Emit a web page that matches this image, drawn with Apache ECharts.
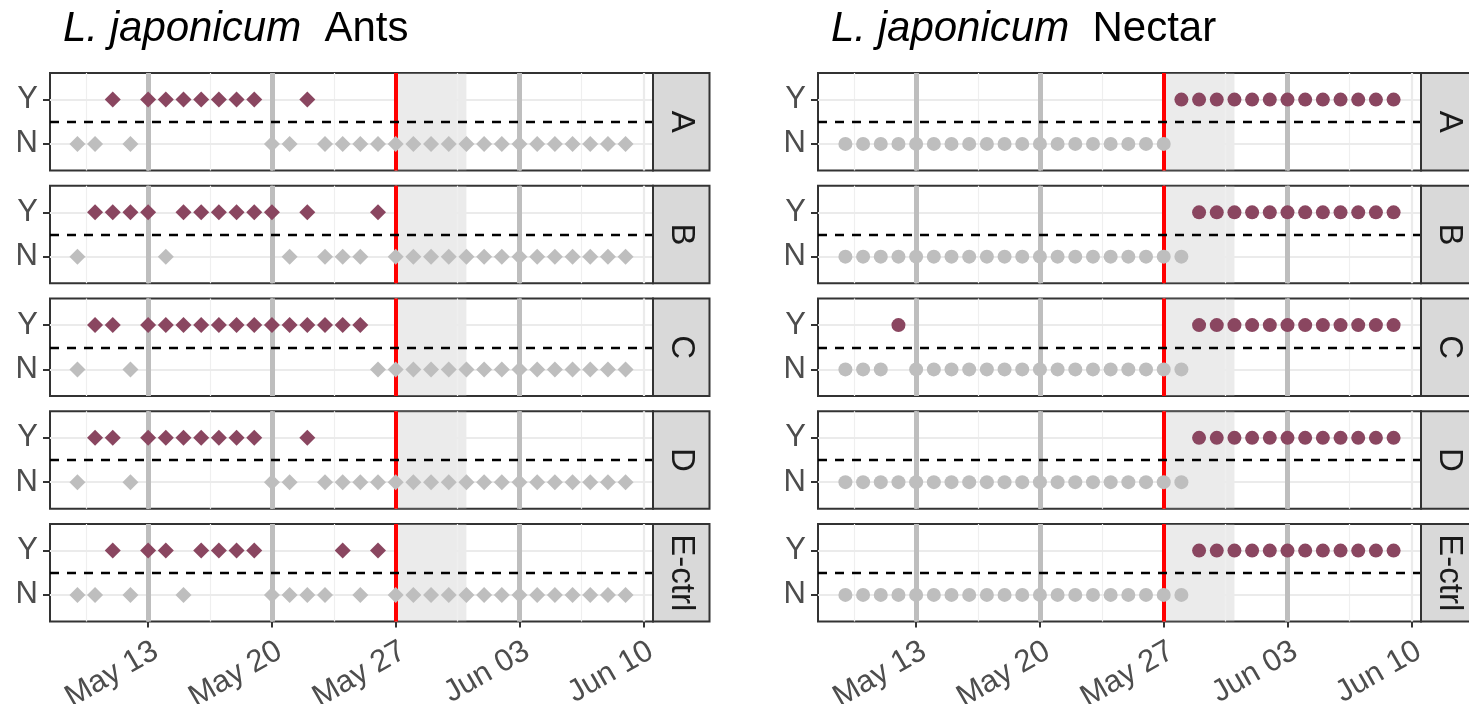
<!DOCTYPE html>
<html><head><meta charset="utf-8">
<script src="https://cdn.jsdelivr.net/npm/echarts@6/dist/echarts.min.js"></script>
<style>html,body{margin:0;padding:0;background:#fff}#c{width:1469px;height:704px}</style>
</head><body><div id="c"></div>
<script>
// ---------- data ----------
const dates = ['2019-05-09','2019-05-10','2019-05-11','2019-05-12','2019-05-13','2019-05-14','2019-05-15','2019-05-16',
  '2019-05-17','2019-05-18','2019-05-19','2019-05-20','2019-05-21','2019-05-22','2019-05-23','2019-05-24',
  '2019-05-25','2019-05-26','2019-05-27','2019-05-28','2019-05-29','2019-05-30','2019-05-31','2019-06-01',
  '2019-06-02','2019-06-03','2019-06-04','2019-06-05','2019-06-06','2019-06-07','2019-06-08','2019-06-09'];
const facets = ['A','B','C','D','E-ctrl'];
const panelTitles = ['Ants','Nectar'];
const yLevels = ['N','Y'];

const antsA = ['N','N','Y','N','Y','Y','Y','Y','Y','Y','Y','N','N','Y','N','N','N','N','N','N','N','N','N','N','N','N','N','N','N','N','N','N'];
const antsB = ['N','Y','Y','Y','Y','N','Y','Y','Y','Y','Y','Y','N','Y','N','N','N','Y','N','N','N','N','N','N','N','N','N','N','N','N','N','N'];
const antsC = ['N','Y','Y','N','Y','Y','Y','Y','Y','Y','Y','Y','Y','Y','Y','Y','Y','N','N','N','N','N','N','N','N','N','N','N','N','N','N','N'];
const antsD = ['N','Y','Y','N','Y','Y','Y','Y','Y','Y','Y','N','N','Y','N','N','N','N','N','N','N','N','N','N','N','N','N','N','N','N','N','N'];
const antsE = ['N','N','Y','N','Y','Y','N','Y','Y','Y','Y','N','N','N','N','Y','N','Y','N','N','N','N','N','N','N','N','N','N','N','N','N','N'];

const nectarA = ['N','N','N','N','N','N','N','N','N','N','N','N','N','N','N','N','N','N','N','Y','Y','Y','Y','Y','Y','Y','Y','Y','Y','Y','Y','Y'];
const nectarB = ['N','N','N','N','N','N','N','N','N','N','N','N','N','N','N','N','N','N','N','N','Y','Y','Y','Y','Y','Y','Y','Y','Y','Y','Y','Y'];
const nectarC = ['N','N','N','Y','N','N','N','N','N','N','N','N','N','N','N','N','N','N','N','N','Y','Y','Y','Y','Y','Y','Y','Y','Y','Y','Y','Y'];
const nectarD = ['N','N','N','N','N','N','N','N','N','N','N','N','N','N','N','N','N','N','N','N','Y','Y','Y','Y','Y','Y','Y','Y','Y','Y','Y','Y'];
const nectarE = ['N','N','N','N','N','N','N','N','N','N','N','N','N','N','N','N','N','N','N','N','Y','Y','Y','Y','Y','Y','Y','Y','Y','Y','Y','Y'];

const tickDates  = ['2019-05-13','2019-05-20','2019-05-27','2019-06-03','2019-06-10'];
const tickLabels = ['May 13','May 20','May 27','Jun 03','Jun 10'];
const refDates   = ['2019-05-13','2019-05-20','2019-06-03'];
const treatDate  = '2019-05-27';
const shadeRange = ['2019-05-27','2019-05-31'];

// ---------- helpers ----------
const dayNum = s => { const [y,m,d] = s.split('-').map(Number); return Date.UTC(y, m-1, d) / 86400000; };
const panels = [[antsA,antsB,antsC,antsD,antsE],[nectarA,nectarB,nectarC,nectarD,nectarE]];
const firstDay = dayNum(dates[0]), lastDay = dayNum(dates[dates.length-1]);
const span = lastDay - firstDay;
const xMin = firstDay - 0.05*span, xMax = lastDay + 0.05*span;
const tickVals = tickDates.map(dayNum);
const minorVals = tickVals.map(v => v - 3.5);
const labelOf = {}; tickVals.forEach((v,i)=> labelOf[v] = tickLabels[i]);

const FONT = 'Liberation Sans, Arial, sans-serif';
const purple = '#8A4660', grey = '#BEBEBE';
const panelLeft = [50, 818], panelW = 603, stripW = 56.5;
const tops = [73, 185.75, 298.5, 411.25, 524], H = 97.5;

const grid = [], xAxis = [], yAxis = [], series = [], graphic = [];
const noEmph = {disabled: true};

panels.forEach((rows, p) => {
  rows.forEach((vals, f) => {
    const gi = p*5 + f;
    const bottom = f === 4;
    grid.push({left: panelLeft[p], top: tops[f], width: panelW, height: H, outerBoundsMode: 'none',
      show: true, backgroundColor: '#fff', borderColor: '#333333', borderWidth: 2, containLabel: false});
    xAxis.push({type: 'value', gridIndex: gi, min: xMin, max: xMax,
      axisLine: {show: false}, splitLine: {show: false},
      axisTick: {show: bottom, customValues: tickVals, length: 6, lineStyle: {color: '#333333', width: 2}},
      axisLabel: {show: bottom, customValues: tickVals, rotate: 30, align: 'right', verticalAlign: 'top', margin: 14,
        fontSize: 31, color: '#4D4D4D', fontFamily: FONT, formatter: v => labelOf[v] || ''}});
    yAxis.push({type: 'value', gridIndex: gi, min: 0.4, max: 2.6,
      axisLine: {show: false}, splitLine: {show: false},
      axisTick: {show: true, customValues: [1,2], length: 7, lineStyle: {color: '#333333', width: 2}},
      axisLabel: {show: true, customValues: [1,2], margin: 12, fontSize: 31, color: '#4D4D4D', fontFamily: FONT,
        formatter: v => yLevels[v-1]}});

    // background grid lines
    const gl = [];
    minorVals.forEach(v => gl.push({xAxis: v, lineStyle: {color: '#EFEFEF', width: 1.2, type: 'solid'}}));
    tickVals.forEach(v => gl.push({xAxis: v, lineStyle: {color: '#EBEBEB', width: 2.2, type: 'solid'}}));
    [1,2].forEach(v => gl.push({yAxis: v, lineStyle: {color: '#EBEBEB', width: 2.2, type: 'solid'}}));
    series.push({type: 'scatter', xAxisIndex: gi, yAxisIndex: gi, data: [], z: 1, silent: true,
      markLine: {symbol: ['none','none'], silent: true, animation: false, label: {show: false}, emphasis: noEmph, data: gl}});
    // shaded window
    series.push({type: 'scatter', xAxisIndex: gi, yAxisIndex: gi, data: [], z: 2, silent: true,
      markArea: {silent: true, animation: false, emphasis: noEmph, itemStyle: {color: 'rgba(190,190,190,0.3)'},
        data: [[{xAxis: dayNum(shadeRange[0])}, {xAxis: dayNum(shadeRange[1])}]]}});
    // reference lines
    const rl = [];
    refDates.forEach(d => rl.push({xAxis: dayNum(d), lineStyle: {color: '#BEBEBE', width: 5, type: 'solid'}}));
    rl.push({xAxis: dayNum(treatDate), lineStyle: {color: '#FF0000', width: 4, type: 'solid'}});
    rl.push({yAxis: 1.5, lineStyle: {color: '#000000', width: 2.4, type: [9, 8]}});
    series.push({type: 'scatter', xAxisIndex: gi, yAxisIndex: gi, data: [], z: 3, silent: true,
      markLine: {symbol: ['none','none'], silent: true, animation: false, label: {show: false}, emphasis: noEmph, data: rl}});
    // points
    const sym = p === 0 ? 'diamond' : 'circle';
    const size = p === 0 ? 16 : 14;
    ['N','Y'].forEach(level => {
      const data = [];
      vals.forEach((v, i) => { if (v === level) data.push([dayNum(dates[i]), yLevels.indexOf(v) + 1]); });
      series.push({type: 'scatter', xAxisIndex: gi, yAxisIndex: gi, z: 5, symbol: sym, symbolSize: size,
        itemStyle: {color: level === 'Y' ? purple : grey, opacity: 1}, emphasis: noEmph, silent: true, data});
    });

    // strip
    const sx = panelLeft[p] + panelW;
    graphic.push({type: 'rect', shape: {x: sx, y: tops[f], width: stripW, height: H},
      style: {fill: '#D9D9D9', stroke: '#333333', lineWidth: 2}, z: 10});
    graphic.push({type: 'text', x: sx + stripW/2, y: tops[f] + H/2, rotation: -Math.PI/2,
      style: {text: facets[f], fill: '#1A1A1A', font: '33px ' + FONT, align: 'center', verticalAlign: 'middle'}, z: 11});
  });
});

const titles = panelTitles.map((t, p) => ({
  text: '{i|L. japonicum}{n|  ' + t + '}',
  left: [58, 826][p], top: 3,
  textStyle: {fontWeight: 'normal', rich: {
    i: {fontSize: 42, fontStyle: 'italic', fontWeight: 'normal', color: '#000', fontFamily: FONT},
    n: {fontSize: 42, fontWeight: 'normal', color: '#000', fontFamily: FONT}}}
}));

const chart = echarts.init(document.getElementById('c'), null, {renderer: 'canvas'});
chart.setOption({animation: false, title: titles, grid, xAxis, yAxis, series, graphic});
</script></body></html>
